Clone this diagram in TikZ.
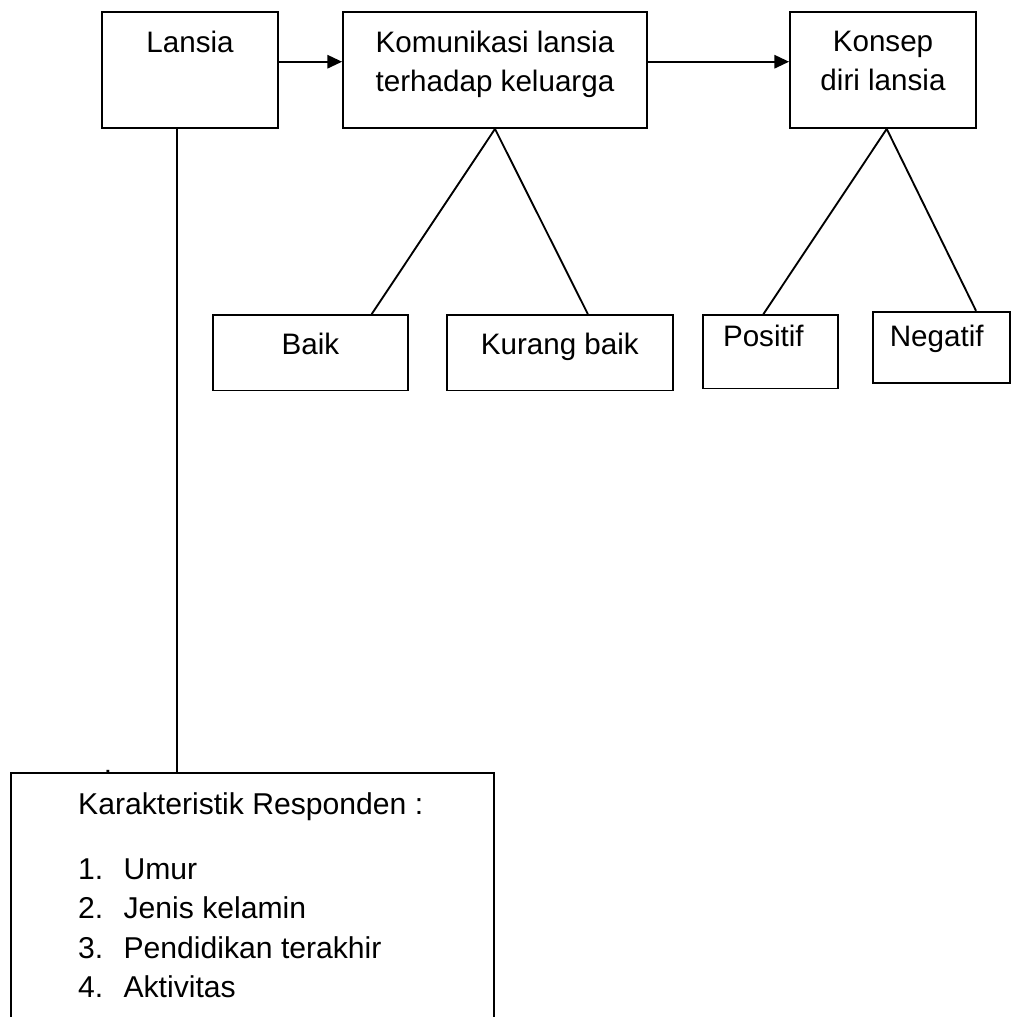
\documentclass[tikz,border=0pt]{standalone}
\usepackage{fontspec}
\setmainfont{Liberation Sans}
\usetikzlibrary{arrows.meta,positioning}

\begin{document}
\begin{tikzpicture}[x=0.75pt,y=-0.75pt,line width=1.4pt,
  every node/.style={font=\fontsize{22.2}{29.5}\selectfont},
  box/.style={draw,rectangle,inner sep=0pt},
  lbl/.style={anchor=north,inner sep=0pt,align=center,yshift=-#1},
  arr/.style={-{Triangle[length=11pt,width=10pt]}}]
  \useasboundingbox (0,0) rectangle (1011,1017);

  % top row
  \node[box,minimum width=132.45pt,minimum height=87.2pt,
    label={[lbl=14.5pt]north:Lansia}] (lansia) at (190,69.85) {};
  \node[box,minimum width=228pt,minimum height=87.2pt,
    label={[lbl=14.5pt]north:{Komunikasi lansia\\terhadap keluarga}}] (komm) at (495,69.85) {};
  \node[box,minimum width=139.5pt,minimum height=87.2pt,
    label={[lbl=14.5pt]north:{Konsep\\diri lansia}}] (konsep) at (883,69.85) {};

  % second row
  \node[box,minimum width=146.5pt,minimum height=56.6pt,
    label={[lbl=13.5pt]north:Baik}] (baik) at (310.35,352.75) {};
  \node[box,minimum width=169.7pt,minimum height=56.6pt,
    label={[lbl=13.5pt]north:Kurang baik}] (kurang) at (559.85,352.75) {};
  \node[box,minimum width=101.25pt,minimum height=55pt,
    label={[lbl=7.5pt,xshift=-5.6pt]north:Positif}] (positif) at (770.8,351.8) {};
  \node[box,minimum width=103pt,minimum height=53.7pt,
    label={[lbl=10pt,xshift=-3.5pt]north:Negatif}] (negatif) at (941.35,347.5) {};

  % responden
  \node[minimum width=360.3pt,minimum height=184.3pt,inner sep=0pt] (resp) at (252.5,897.15) {};
  \node[anchor=north west,inner sep=0pt,align=left,
    font=\fontsize{22.6}{29.6}\selectfont] (items) at (77.3,791.7)
    {Karakteristik Responden :\\[19pt]
     \makebox[34pt][l]{1.}Umur\\
     \makebox[34pt][l]{2.}Jenis kelamin\\
     \makebox[34pt][l]{3.}Pendidikan terakhir\\
     \makebox[34pt][l]{4.}Aktivitas};
  \node[anchor=base,inner sep=0pt] (dot) at (108,773.5) {.};

  \draw (resp.south west) -- (resp.north west) -- (resp.north east) -- (resp.south east);

  \draw[arr] ([yshift=6.1pt]lansia.east) -- ([yshift=6.1pt]komm.west);
  \draw[arr] ([yshift=6.1pt]komm.east) -- ([yshift=6.1pt]konsep.west);
  \draw ([xshift=-9.5pt]lansia.south) -- ([xshift=-9.5pt]lansia.south |- resp.north);
  \draw ([xshift=46pt]baik.north) -- (komm.south) -- ([xshift=21pt]kurang.north);
  \draw ([xshift=-5.6pt]positif.north) -- ([xshift=2.8pt]konsep.south) -- ([xshift=26pt]negatif.north);
\end{tikzpicture}
\end{document}
